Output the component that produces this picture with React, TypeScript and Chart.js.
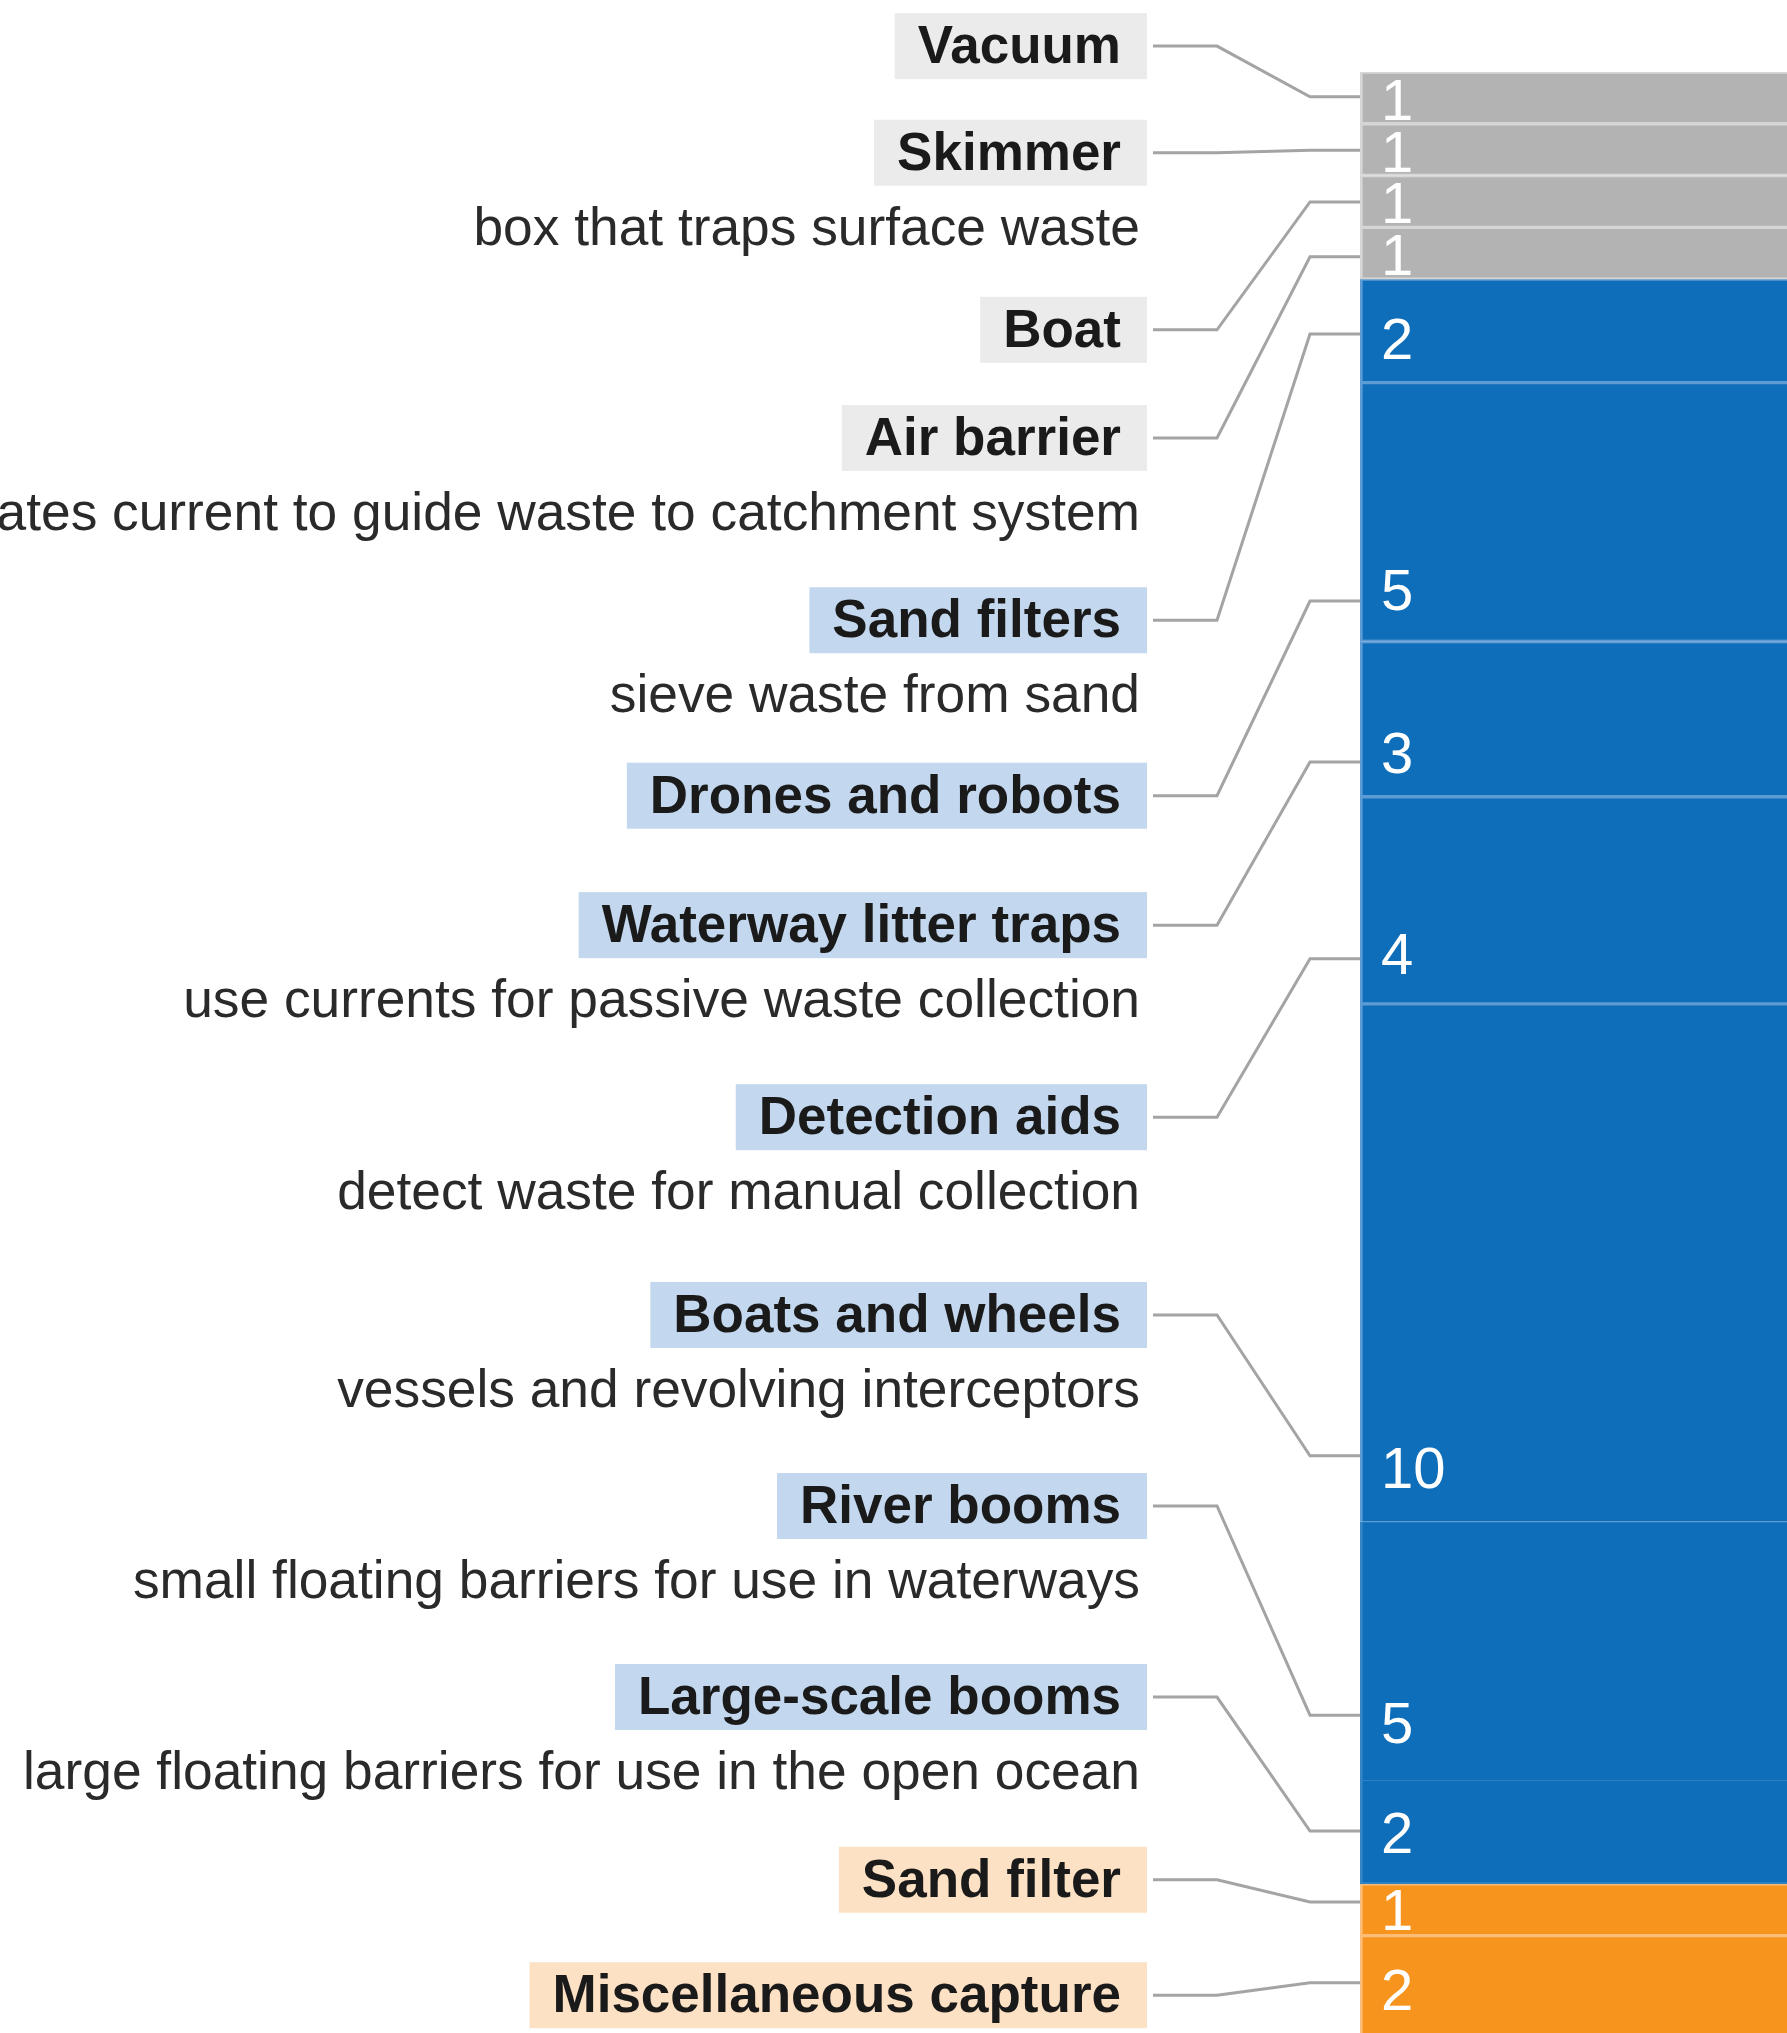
import React, { useEffect, useRef } from 'react';
import { Chart, registerables } from 'chart.js';

Chart.register(...registerables);

// ---- data -------------------------------------------------------------
const categories = [
  'Vacuum',
  'Skimmer',
  'Boat',
  'Air barrier',
  'Sand filters',
  'Drones and robots',
  'Waterway litter traps',
  'Detection aids',
  'Boats and wheels',
  'River booms',
  'Large-scale booms',
  'Sand filter',
  'Miscellaneous capture',
];

const counts = [1, 1, 1, 1, 2, 5, 3, 4, 10, 5, 2, 1, 2];

const groups = [
  'gray', 'gray', 'gray', 'gray',
  'blue', 'blue', 'blue', 'blue', 'blue', 'blue', 'blue',
  'orange', 'orange',
];

const descriptions = [
  '',
  'box that traps surface waste',
  '',
  'generates current to guide waste to catchment system',
  'sieve waste from sand',
  '',
  'use currents for passive waste collection',
  'detect waste for manual collection',
  'vessels and revolving interceptors',
  'small floating barriers for use in waterways',
  'large floating barriers for use in the open ocean',
  '',
  '',
];

// where each leader line meets the bar (value units along the stack)
const labelAnchors = [0.48, 1.51, 2.51, 3.57, 5.06, 10.22, 13.33, 17.13, 26.73, 31.74, 33.98, 35.35, 36.91];
// where each count label is centred (value units along the stack)
const countLabelPos = [0.52, 1.52, 2.52, 3.52, 5.14, 9.99, 13.13, 17.02, 26.95, 31.87, 34.0, 35.48, 37.03];
// where each category label sits in the left column (value units)
const labelRows = [-0.5, 1.56, 4.98, 7.07, 10.59, 13.98, 16.48, 20.19, 24.01, 27.7, 31.39, 34.92, 37.15];

// ---- styles -----------------------------------------------------------
const barColors: Record<string, string> = { gray: '#b3b3b3', blue: '#0f6eb9', orange: '#f7941e' };
const edgeColors: Record<string, string> = { gray: '#d6d6d6', blue: '#5c9bd3', orange: '#fbbd77' };
const boxColors: Record<string, string> = { gray: '#ebebeb', blue: '#c3d8ee', orange: '#fde1c4' };
const FONT = '"Liberation Sans", Arial, Helvetica, sans-serif';

const labelPlugin = {
  id: 'sideLabels',
  afterDatasetsDraw(chart: any) {
    const { ctx, chartArea, scales } = chart;
    const y = scales.y;
    const barLeft = chartArea.left;
    const boxRight = barLeft - 213;
    const textRight = barLeft - 239;
    const descRight = barLeft - 220;
    ctx.save();
    categories.forEach((name, i) => {
      const cy = y.getPixelForValue(labelRows[i]);
      const ay = y.getPixelForValue(labelAnchors[i]);
      const vy = y.getPixelForValue(countLabelPos[i]);
      // leader line
      ctx.beginPath();
      ctx.strokeStyle = '#a4a4a4';
      ctx.lineWidth = 3;
      ctx.moveTo(barLeft - 207, cy);
      ctx.lineTo(barLeft - 143, cy);
      ctx.lineTo(barLeft - 50, ay);
      ctx.lineTo(barLeft, ay);
      ctx.stroke();
      // label box
      ctx.font = `bold 53px ${FONT}`;
      const w = ctx.measureText(name).width;
      ctx.fillStyle = boxColors[groups[i]];
      ctx.fillRect(textRight - w - 23, cy - 33, boxRight - (textRight - w - 23), 66);
      ctx.fillStyle = '#1a1a1a';
      ctx.textAlign = 'right';
      ctx.textBaseline = 'alphabetic';
      ctx.fillText(name, textRight, cy + 17);
      // description
      if (descriptions[i]) {
        ctx.font = `53.3px ${FONT}`;
        ctx.fillStyle = '#2a2a2a';
        ctx.fillText(descriptions[i], descRight, cy + 92);
      }
      // count label
      ctx.font = `58px ${FONT}`;
      ctx.fillStyle = '#ffffff';
      ctx.textAlign = 'left';
      ctx.fillText(String(counts[i]), barLeft + 21, vy + 21);
    });
    ctx.restore();
  },
};

export default function App() {
  const canvasRef = useRef<HTMLCanvasElement | null>(null);

  useEffect(() => {
    if (!canvasRef.current) return;
    const chart = new Chart(canvasRef.current, {
      type: 'bar',
      data: {
        labels: ['Devices'],
        datasets: categories.map((name, i) => ({
          label: name,
          data: [counts[i]],
          backgroundColor: barColors[groups[i]],
          borderColor: i === 9 || i === 10 ? '#3584c4' : edgeColors[groups[i]],
          borderWidth: {
            top: i === 9 || i === 10 ? 1 : 2,
            bottom: i === 8 || i === 9 ? 0 : 2,
            left: 3,
            right: 0,
          },
          borderSkipped: false,
          barPercentage: 1,
          categoryPercentage: 1,
        })),
      },
      options: {
        responsive: false,
        animation: false,
        layout: { padding: { left: 1360, top: 72, right: 0, bottom: 0 } },
        plugins: {
          legend: { display: false },
          tooltip: { enabled: false },
        },
        scales: {
          x: { display: false, stacked: true },
          y: { display: false, stacked: true, reverse: true, min: 0, max: 37.88 },
        },
      },
      plugins: [labelPlugin],
    });
    return () => chart.destroy();
  }, []);

  return (
    <div style={{ position: 'absolute', left: 0, top: 0, width: 1787, height: 2033, background: '#ffffff' }}>
      <canvas ref={canvasRef} width={1787} height={2033} style={{ display: 'block' }} />
    </div>
  );
}
